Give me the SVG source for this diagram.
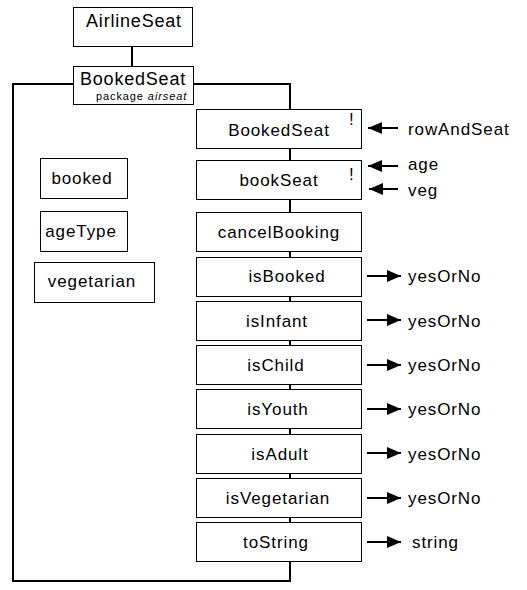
<svg xmlns="http://www.w3.org/2000/svg" width="527" height="590" viewBox="0 0 527 590">
<defs>
<style>
.box{fill:#fff;stroke:#000;stroke-width:1}
.t{font-family:"Liberation Sans",Arial,sans-serif;font-size:17px;letter-spacing:0.9px;fill:#000;text-anchor:middle}
.tl{font-family:"Liberation Sans",Arial,sans-serif;font-size:17px;letter-spacing:0.9px;fill:#000}
.big{font-family:"Liberation Sans",Arial,sans-serif;font-size:18px;letter-spacing:0.8px;fill:#000;text-anchor:middle}
.small{font-family:"Liberation Sans",Arial,sans-serif;font-size:11px;letter-spacing:0.9px;fill:#000}
.line{fill:none;stroke:#000;stroke-width:2}
</style>
<marker id="ah" markerWidth="14" markerHeight="12" refX="14" refY="6" orient="auto" markerUnits="userSpaceOnUse">
<path d="M0,0 L14,6 L0,12 Z" fill="#000"/>
</marker>
</defs>
<rect width="527" height="590" fill="#fff"/>
<g id="connectors">
<path class="line" d="M132,46 V66"/>
<path class="line" d="M73,84 H13 V581 H290 V562"/>
<path class="line" d="M193,84 H290 V109"/>
<path class="line" d="M290,148 V160 M290,199 V212 M290,251 V257 M290,296 V301 M290,340 V345 M290,384 V389 M290,428 V434 M290,473 V478 M290,517 V522"/>
<path class="line" d="M398,128 H368" marker-end="url(#ah)"/>
<path class="line" d="M398,166 H368" marker-end="url(#ah)"/>
<path class="line" d="M398,189 H369" marker-end="url(#ah)"/>
<path class="line" d="M367,276 H401" marker-end="url(#ah)"/>
<path class="line" d="M367,320 H401" marker-end="url(#ah)"/>
<path class="line" d="M367,365 H401" marker-end="url(#ah)"/>
<path class="line" d="M367,409 H401" marker-end="url(#ah)"/>
<path class="line" d="M367,453 H401" marker-end="url(#ah)"/>
<path class="line" d="M367,498 H401" marker-end="url(#ah)"/>
<path class="line" d="M367,542 H401" marker-end="url(#ah)"/>
</g>
<g id="AirlineSeat"><rect class="box" x="73.5" y="7.5" width="119" height="39"/><text class="big" x="134" y="27">AirlineSeat</text></g>
<g id="BookedSeatClass"><rect class="box" x="73.5" y="66.5" width="120" height="38"/><text class="big" x="133" y="85">BookedSeat</text><text class="small" x="96" y="100">package <tspan font-style="italic">airseat</tspan></text></g>
<g id="booked"><rect class="box" x="40.5" y="158.5" width="87" height="40"/><text class="t" x="82" y="184">booked</text></g>
<g id="ageType"><rect class="box" x="40.5" y="211.5" width="87" height="40"/><text class="t" x="81" y="237">ageType</text></g>
<g id="vegetarian"><rect class="box" x="34.5" y="262.5" width="120" height="40"/><text class="t" x="92" y="287">vegetarian</text></g>
<g id="m-BookedSeat"><rect class="box" x="196.5" y="109.5" width="165" height="39"/><text class="t" x="279" y="136">BookedSeat</text><text class="tl" x="349" y="125">!</text></g>
<g id="m-bookSeat"><rect class="box" x="196.5" y="160.5" width="165" height="39"/><text class="t" x="279" y="186">bookSeat</text><text class="tl" x="349" y="180">!</text></g>
<g id="m-cancelBooking"><rect class="box" x="196.5" y="212.5" width="165" height="39"/><text class="t" x="279" y="238">cancelBooking</text></g>
<g id="m-isBooked"><rect class="box" x="196.5" y="257.5" width="165" height="39"/><text class="t" x="287" y="282">isBooked</text></g>
<g id="m-isInfant"><rect class="box" x="196.5" y="301.5" width="165" height="39"/><text class="t" x="277" y="327">isInfant</text></g>
<g id="m-isChild"><rect class="box" x="196.5" y="345.5" width="165" height="39"/><text class="t" x="276" y="371">isChild</text></g>
<g id="m-isYouth"><rect class="box" x="196.5" y="389.5" width="165" height="39"/><text class="t" x="278" y="415">isYouth</text></g>
<g id="m-isAdult"><rect class="box" x="196.5" y="434.5" width="165" height="39"/><text class="t" x="280" y="460">isAdult</text></g>
<g id="m-isVegetarian"><rect class="box" x="196.5" y="478.5" width="165" height="39"/><text class="t" x="278" y="504">isVegetarian</text></g>
<g id="m-toString"><rect class="box" x="196.5" y="522.5" width="165" height="39"/><text class="t" x="276" y="548">toString</text></g>
<g id="labels">
<text class="tl" x="408" y="135">rowAndSeat</text>
<text class="tl" x="408" y="170">age</text>
<text class="tl" x="408" y="196">veg</text>
<text class="tl" x="408" y="282">yesOrNo</text>
<text class="tl" x="408" y="327">yesOrNo</text>
<text class="tl" x="408" y="371">yesOrNo</text>
<text class="tl" x="408" y="415">yesOrNo</text>
<text class="tl" x="408" y="460">yesOrNo</text>
<text class="tl" x="408" y="504">yesOrNo</text>
<text class="tl" x="412" y="548">string</text>
</g>
</svg>
